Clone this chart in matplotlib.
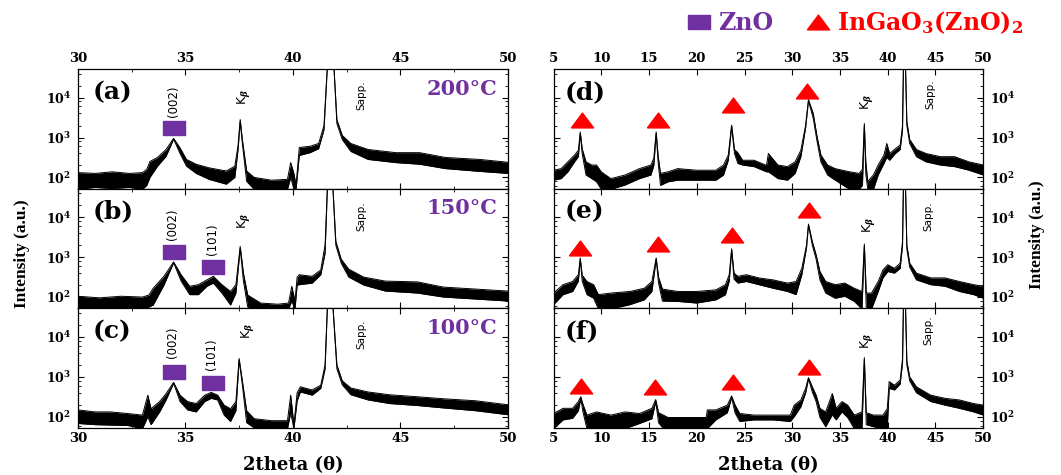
import matplotlib
matplotlib.use('Agg')
import matplotlib.pyplot as plt
from matplotlib.lines import Line2D
from matplotlib.ticker import MultipleLocator, LogLocator, NullFormatter
import numpy as np

plt.rcParams['font.family'] = 'DejaVu Serif'
plt.rcParams['font.weight'] = 'bold'
plt.rcParams['axes.labelweight'] = 'bold'
plt.rcParams['mathtext.fontset'] = 'dejavuserif'

# XRD scans: 2theta nodes and the upper / lower edge of
# the noise band, given as log10(counts)
tt_a = [30.0, 30.8, 31.6, 32.4, 33.0, 33.2, 33.35, 33.7, 34.1, 34.45, 34.75, 35.05, 35.5, 36.1,
        36.9, 37.3, 37.45, 37.55, 37.65, 37.85, 38.2, 39.0, 39.75, 39.9, 40.05, 40.15, 40.3,
        40.8, 41.2, 41.45, 41.62, 41.9, 42.05, 42.3, 42.7, 43.5, 44.8, 45.9, 47.1, 48.7, 50.0]
hi_a = [2.12, 2.10, 2.14, 2.10, 2.12, 2.2, 2.4, 2.5, 2.7, 2.98, 2.74, 2.45, 2.33, 2.24,
        2.16, 2.28, 2.8, 3.45, 2.95, 2.16, 2.0, 1.93, 1.95, 2.37, 2.1, 1.8, 2.75,
        2.78, 2.85, 3.3, 4.9, 4.9, 3.45, 3.05, 2.85, 2.7, 2.62, 2.62, 2.5, 2.45, 2.38]
lo_a = [1.7, 1.75, 1.72, 1.75, 1.7, 1.8, 2.0, 2.28, 2.53, 2.96, 2.6, 2.28, 2.1, 1.95,
        1.83, 2.0, 2.7, 3.4, 2.85, 1.9, 1.7, 1.7, 1.7, 2.0, 1.7, 1.7, 2.55,
        2.62, 2.72, 3.2, 4.9, 4.9, 3.35, 2.95, 2.65, 2.45, 2.37, 2.33, 2.22, 2.15, 2.1]

tt_b = [30.0, 31.0, 32.0, 33.0, 33.3, 33.5, 34.0, 34.45, 34.8, 35.2, 35.6, 36.0, 36.3, 36.7,
        37.1, 37.35, 37.55, 37.7, 37.9, 38.5, 39.3, 39.8, 39.95, 40.1, 40.2, 40.3, 40.9,
        41.3, 41.5, 41.62, 41.85, 42.0, 42.25, 42.6, 43.3, 44.3, 45.8, 47.0, 48.5, 50.0]
hi_b = [2.02, 1.98, 2.02, 2.0, 2.05, 2.22, 2.52, 2.88, 2.56, 2.27, 2.31, 2.43, 2.52, 2.31,
        2.14, 2.31, 3.27, 2.6, 2.05, 1.85, 1.82, 1.85, 2.27, 1.9, 2.5, 2.56, 2.52,
        2.68, 3.3, 4.9, 4.9, 3.4, 2.95, 2.7, 2.5, 2.4, 2.38, 2.25, 2.2, 2.15]
lo_b = [1.7, 1.7, 1.72, 1.7, 1.75, 1.8, 2.3, 2.86, 2.4, 2.06, 2.06, 2.27, 2.35, 2.1,
        1.8, 2.1, 3.22, 2.4, 1.75, 1.7, 1.7, 1.7, 1.9, 1.7, 2.3, 2.31, 2.35,
        2.56, 3.1, 4.9, 4.9, 3.3, 2.85, 2.5, 2.3, 2.15, 2.1, 2.0, 1.95, 1.9]

tt_c = [30.0, 30.8, 31.5, 32.3, 33.0, 33.25, 33.4, 33.8, 34.1, 34.45, 34.75, 35.1, 35.5, 35.9,
        36.2, 36.5, 36.8, 37.1, 37.35, 37.5, 37.65, 37.85, 38.2, 39.0, 39.75, 39.9, 40.05,
        40.2, 40.35, 40.9, 41.3, 41.5, 41.62, 41.85, 42.05, 42.3, 42.7, 43.5, 44.5, 45.8,
        47.0, 48.5, 50.0]
hi_c = [2.17, 2.12, 2.12, 2.08, 2.04, 2.54, 2.2, 2.38, 2.58, 2.86, 2.54, 2.38, 2.33, 2.54,
        2.61, 2.54, 2.29, 2.2, 2.38, 3.46, 2.9, 2.15, 1.95, 1.9, 1.9, 2.54, 1.8,
        2.6, 2.75, 2.67, 2.79, 3.3, 4.9, 4.9, 3.3, 2.9, 2.72, 2.62, 2.55, 2.5,
        2.45, 2.4, 2.3]
lo_c = [1.83, 1.8, 1.79, 1.78, 1.7, 2.0, 1.8, 2.12, 2.42, 2.84, 2.38, 2.17, 2.12, 2.38,
        2.46, 2.42, 2.04, 1.88, 2.15, 3.42, 2.8, 1.85, 1.72, 1.7, 1.7, 2.1, 1.7,
        2.4, 2.62, 2.54, 2.71, 3.2, 4.9, 4.9, 3.2, 2.8, 2.55, 2.42, 2.33, 2.28,
        2.22, 2.15, 2.05]

tt_d = [5.0, 5.8, 6.5, 7.2, 7.6, 7.8, 8.0, 8.4, 9.0, 9.5, 10.0, 11.0, 12.5, 14.0, 15.2,
        15.5, 15.75, 15.95, 16.2, 17.0, 18.0, 20.0, 22.0, 22.8, 23.3, 23.65, 23.95, 24.3,
        24.8, 26.0, 27.3, 27.5, 28.5, 29.5, 30.3, 30.9, 31.4, 31.7, 32.2, 32.6, 33.0, 33.7,
        34.5, 36.0, 37.0, 37.35, 37.55, 37.7, 37.9, 38.5, 39.0, 39.6, 39.9, 40.2, 40.8,
        41.3, 41.55, 41.65, 41.85, 42.0, 42.3, 43.0, 44.0, 45.5, 47.0, 48.5, 50.0]
hi_d = [2.18, 2.22, 2.39, 2.56, 2.68, 3.14, 2.72, 2.39, 2.31, 2.31, 2.14, 1.97, 2.06, 2.22, 2.31,
        2.48, 3.14, 2.55, 2.1, 2.14, 2.22, 2.18, 2.18, 2.31, 2.56, 3.31, 2.7, 2.62,
        2.43, 2.43, 2.3, 2.6, 2.31, 2.27, 2.39, 2.68, 3.31, 3.95, 3.6, 3.02, 2.56, 2.31,
        2.22, 2.14, 2.1, 2.2, 3.35, 2.4, 1.9, 2.06, 2.31, 2.56, 2.85, 2.6, 2.72,
        2.81, 3.3, 4.9, 4.9, 3.4, 2.95, 2.7, 2.6, 2.52, 2.52, 2.39, 2.31]
lo_d = [1.93, 1.97, 2.14, 2.39, 2.52, 3.1, 2.6, 2.06, 1.97, 1.89, 1.7, 1.7, 1.81, 1.97, 2.06,
        2.3, 3.1, 2.4, 1.8, 1.89, 1.93, 1.93, 1.93, 2.06, 2.43, 3.27, 2.6, 2.35,
        2.31, 2.27, 2.14, 2.14, 1.97, 1.93, 2.1, 2.52, 3.25, 3.92, 3.48, 2.9, 2.39, 2.06,
        1.93, 1.7, 1.7, 1.8, 3.3, 2.1, 1.72, 1.7, 2.06, 2.35, 2.5, 2.43, 2.6,
        2.7, 3.2, 4.9, 4.9, 3.3, 2.85, 2.52, 2.39, 2.31, 2.27, 2.18, 2.06]

tt_e = [5.0, 6.0, 7.0, 7.6, 7.8, 8.0, 8.5, 9.2, 9.7, 11.0, 13.0, 14.5, 15.3, 15.75, 16.0,
        16.4, 18.0, 20.0, 22.0, 23.0, 23.4, 23.65, 23.9, 24.3, 25.2, 26.5, 28.0, 29.5,
        30.4, 31.0, 31.5, 31.7, 32.1, 32.5, 32.9, 33.5, 34.5, 35.5, 36.5, 37.3, 37.55,
        37.75, 38.3, 39.0, 39.5, 40.0, 40.7, 41.3, 41.55, 41.65, 41.85, 42.0, 42.3, 43.0,
        44.5, 46.0, 47.5, 49.0, 50.0]
hi_e = [2.1, 2.31, 2.39, 2.56, 2.98, 2.55, 2.39, 2.31, 2.06, 2.1, 2.14, 2.22, 2.39, 2.98, 2.5,
        2.2, 2.14, 2.14, 2.18, 2.31, 2.56, 3.21, 2.6, 2.52, 2.56, 2.48, 2.43, 2.35,
        2.39, 2.72, 3.31, 3.83, 3.39, 3.06, 2.64, 2.39, 2.31, 2.35, 2.22, 2.14, 3.33,
        2.1, 2.1, 2.39, 2.68, 2.81, 2.72, 2.85, 3.4, 4.9, 4.9, 3.3, 2.85, 2.6,
        2.48, 2.48, 2.39, 2.31, 2.27]
lo_e = [1.81, 2.06, 2.14, 2.4, 2.95, 2.4, 2.06, 1.97, 1.7, 1.7, 1.81, 1.93, 2.14, 2.95, 2.35,
        1.9, 1.89, 1.85, 1.93, 2.06, 2.4, 3.17, 2.45, 2.35, 2.39, 2.31, 2.22, 2.14,
        2.06, 2.56, 3.25, 3.8, 3.3, 2.95, 2.43, 2.1, 1.97, 2.02, 1.89, 1.7, 3.28,
        1.75, 1.7, 2.14, 2.48, 2.64, 2.6, 2.72, 3.3, 4.9, 4.9, 3.2, 2.75, 2.43,
        2.31, 2.27, 2.14, 2.06, 1.97]

tt_f = [5.0, 6.0, 7.0, 7.6, 7.85, 8.1, 8.5, 9.5, 11.0, 12.5, 14.0, 15.3, 15.7, 16.0, 16.5,
        17.0, 21.0, 21.1, 22.0, 23.2, 23.65, 24.0, 24.5, 26.0, 28.0, 29.8, 30.2, 30.9,
        31.4, 31.7, 32.1, 32.5, 32.9, 33.5, 34.2, 34.6, 35.2, 35.8, 36.5, 37.3, 37.55,
        37.75, 38.5, 39.5, 39.95, 40.15, 40.7, 41.3, 41.55, 41.65, 41.85, 42.0, 42.3, 43.0,
        44.5, 46.0, 47.5, 49.0, 50.0]
hi_f = [2.08, 2.21, 2.21, 2.38, 2.5, 2.3, 2.04, 2.12, 2.04, 2.12, 2.08, 2.21, 2.43, 2.1, 2.04,
        1.98, 1.98, 2.17, 2.17, 2.29, 2.52, 2.3, 2.08, 2.04, 2.04, 2.04, 2.29, 2.42,
        2.71, 2.98, 2.75, 2.54, 2.21, 2.12, 2.58, 2.21, 2.38, 2.29, 2.04, 2.12, 3.48,
        2.1, 2.04, 2.04, 2.2, 2.88, 2.79, 2.92, 3.45, 4.9, 4.9, 3.4, 3.0, 2.75,
        2.54, 2.46, 2.42, 2.33, 2.29]
lo_f = [1.7, 1.92, 1.96, 2.15, 2.45, 2.1, 1.7, 1.7, 1.7, 1.7, 1.83, 1.95, 2.38, 1.85, 1.7,
        1.7, 1.7, 1.7, 1.92, 2.1, 2.48, 2.1, 1.88, 1.92, 1.92, 1.88, 2.0, 2.25,
        2.6, 2.95, 2.62, 2.38, 1.98, 1.75, 2.05, 1.92, 2.12, 1.98, 1.7, 1.7, 3.44,
        1.8, 1.75, 1.7, 1.7, 2.71, 2.67, 2.82, 3.35, 4.9, 4.9, 3.3, 2.9, 2.6,
        2.38, 2.29, 2.21, 2.12, 2.04]

# peak markers (2theta, counts)
zno_a = ([34.45], [1700])
zno_b = ([34.45, 36.3], [1320, 560])
zno_c = ([34.45, 36.3], [1350, 720])
igzo_d = ([7.97, 15.98, 23.8, 31.57], [2800, 2800, 6500, 14500])
igzo_e = ([7.8, 15.98, 23.64, 31.78], [1660, 2140, 3630, 15100])
igzo_f = ([7.9, 15.63, 23.8, 31.78], [590, 560, 760, 1780])

temps = ['200°C', '150°C', '100°C']

purple = '#7030A0'
red = '#FF0000'
rect = [(-1.5, -1), (1.5, -1), (1.5, 1), (-1.5, 1), (-1.5, -1)]
tri = [(-1.5, -1), (1.5, -1), (0, 1), (-1.5, -1)]

fig = plt.figure(figsize=(10.61, 4.75), dpi=100)
lefts = [0.0735, 0.5217]
W, H, B0 = 0.405, 0.2519, 0.0989

axes = {}
for col, names in enumerate(['abc', 'def']):
    for row, n in enumerate(names):
        axes[n] = fig.add_axes([lefts[col], B0 + (2 - row) * H, W, H])

scans = {'a': (tt_a, hi_a, lo_a), 'b': (tt_b, hi_b, lo_b), 'c': (tt_c, hi_c, lo_c),
         'd': (tt_d, hi_d, lo_d), 'e': (tt_e, hi_e, lo_e), 'f': (tt_f, hi_f, lo_f)}

for n, ax in axes.items():
    tt, hi, lo = scans[n]
    tt = np.array(tt)
    hi = 10 ** np.array(hi)
    lo = 10 ** np.array(lo)
    ax.fill_between(tt, lo, hi, color='k', lw=0)
    ax.plot(tt, hi, color='k', lw=0.7)
    ax.plot(tt, lo, color='k', lw=0.7)

    right = n in 'def'
    ax.set_yscale('log')
    ax.set_ylim(52, 5.2e4)
    ax.set_xlim((5, 50) if right else (30, 50))
    ax.xaxis.set_major_locator(MultipleLocator(5))
    if not right:
        ax.xaxis.set_minor_locator(MultipleLocator(2.5))
    ax.set_yticks([1e2, 1e3, 1e4])
    ax.set_yticklabels([r'$\mathbf{10^{2}}$', r'$\mathbf{10^{3}}$', r'$\mathbf{10^{4}}$'])
    ax.yaxis.set_minor_locator(LogLocator(base=10, subs=(2, 4, 6, 8)))
    ax.yaxis.set_minor_formatter(NullFormatter())
    ax.tick_params(which='both', direction='in', top=True, bottom=True, left=True, right=True,
                   labelbottom=n in 'cf', labeltop=n in 'ad',
                   labelleft=not right, labelright=right)
    ax.tick_params(which='major', length=4, width=0.8)
    ax.tick_params(which='minor', length=2.5, width=0.6)
    ax.tick_params(axis='x', labelsize=9.5, pad=3)
    ax.tick_params(axis='y', labelsize=9, pad=5)
    for sp in ax.spines.values():
        sp.set_linewidth(0.9)

    xf = 0.035 if not right else 0.025
    ax.text(xf, 0.81, '(%s)' % n, transform=ax.transAxes, ha='left', va='center', fontsize=18)

for n, t in zip('abc', temps):
    axes[n].text(0.975, 0.835, t, transform=axes[n].transAxes, ha='right', va='center',
                 color=purple, fontsize=15)

for n, (xs, ys) in zip('abc', [zno_a, zno_b, zno_c]):
    axes[n].plot(xs, ys, ls='none', marker=rect, ms=16, color=purple, mec=purple)
for n, (xs, ys) in zip('def', [igzo_d, igzo_e, igzo_f]):
    axes[n].plot(xs, ys, ls='none', marker=tri, ms=16, color=red, mec=red)


def tag(ax, x, y, s, size):
    ax.text(x, y, s, rotation=90, ha='center', va='bottom', fontsize=size,
            family='DejaVu Sans', weight='normal')


tag(axes['a'], 34.45, 3300, '(002)', 8.5)
tag(axes['b'], 34.4, 2700, '(002)', 8.5)
tag(axes['b'], 36.27, 1150, '(101)', 8.5)
tag(axes['c'], 34.4, 2900, '(002)', 8.5)
tag(axes['c'], 36.23, 1500, '(101)', 8.5)
for n, x, y in [('a', 37.72, 6500), ('b', 37.72, 5200), ('c', 37.87, 9100),
                ('d', 37.8, 4800), ('e', 38.0, 4000), ('f', 37.8, 5100)]:
    tag(axes[n], x, y, r'K$_{\beta}$', 9)
for n, x, y in [('a', 43.2, 4800), ('b', 43.2, 4400), ('c', 43.2, 5100),
                ('d', 44.44, 5200), ('e', 44.3, 4400), ('f', 44.3, 6200)]:
    tag(axes[n], x, y, 'Sapp.', 7.5)

axes['c'].set_xlabel('2theta (θ)', fontsize=13, labelpad=8, fontweight='bold')
axes['f'].set_xlabel('2theta (θ)', fontsize=13, labelpad=8, fontweight='bold')
fig.text(0.021, 0.466, 'Intensity (a.u.)', rotation=90, ha='center', va='center',
         family='Liberation Serif', weight='bold', fontsize=12.5)
fig.text(0.977, 0.505, 'Intensity (a.u.)', rotation=90, ha='center', va='center',
         family='Liberation Serif', weight='bold', fontsize=12.5)

h1 = Line2D([], [], ls='none', marker=rect, ms=16, color=purple)
h2 = Line2D([], [], ls='none', marker=tri, ms=16, color=red)
leg = fig.legend([h1, h2], ['ZnO', r'InGaO$_\mathbf{3}$(ZnO)$_\mathbf{2}$'], loc='center',
                 bbox_to_anchor=(0.806, 0.952), ncol=2, frameon=False, fontsize=17,
                 handlelength=1.0, handletextpad=0.3, columnspacing=1.4)
for txt, c in zip(leg.get_texts(), [purple, red]):
    txt.set_color(c)

fig.savefig('out.png', dpi=100)
